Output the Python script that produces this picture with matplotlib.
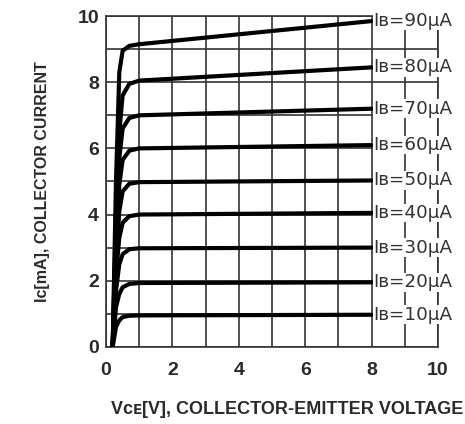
import matplotlib
matplotlib.use("Agg")
import matplotlib.pyplot as plt

plt.rcParams['font.family'] = ['Liberation Sans', 'DejaVu Sans']

# collector-emitter voltage sample points [V]
vce = [0.2, 0.3, 0.4, 0.5, 0.7, 1.0, 8.0]

# base currents [uA]
ib = [10, 20, 30, 40, 50, 60, 70, 80, 90]

# collector current [mA] for each base current
ic_10 = [0, 0.6, 0.8, 0.9, 0.94, 0.95, 0.97]
ic_20 = [0, 1.2, 1.6, 1.8, 1.9, 1.93, 1.95]
ic_30 = [0, 1.7, 2.5, 2.8, 2.95, 2.98, 3.0]
ic_40 = [0, 2.2, 3.3, 3.75, 3.95, 4.0, 4.05]
ic_50 = [0, 2.6, 4.1, 4.7, 4.93, 4.98, 5.03]
ic_60 = [0, 3.0, 4.9, 5.65, 5.93, 6.0, 6.1]
ic_70 = [0, 3.5, 5.7, 6.6, 6.92, 7.0, 7.2]
ic_80 = [0, 4.0, 6.5, 7.6, 7.95, 8.05, 8.45]
ic_90 = [0, 5.0, 8.3, 8.95, 9.1, 9.15, 9.85]

curves = [ic_10, ic_20, ic_30, ic_40, ic_50, ic_60, ic_70, ic_80, ic_90]

fig = plt.figure(figsize=(4.65, 4.24), dpi=100)
ax = fig.add_axes([0.228, 0.182, 0.714, 0.780])

for b, ic in zip(ib, curves):
    ax.plot(vce, ic, color='black', lw=3, solid_capstyle='round', zorder=3)
    ax.text(8.06, ic[-1], "I\u0299=%d\u03bcA" % b,
            fontsize=13.2, family='DejaVu Sans', color='#333333',
            va='center', ha='left', clip_on=False, zorder=4,
            bbox=dict(facecolor='white', edgecolor='none', pad=0.3))

ax.set_xlim(0, 10)
ax.set_ylim(0, 10)
ax.set_xticks(range(0, 11, 1))
ax.set_yticks(range(0, 11, 1))
ax.set_xticklabels([str(v) if v % 2 == 0 else '' for v in range(0, 11)])
ax.set_yticklabels([str(v) if v % 2 == 0 else '' for v in range(0, 11)])
ax.grid(True, color='#333333', lw=1.2, zorder=0)
ax.tick_params(length=0, labelsize=14, labelcolor='#2a2a2a')
ax.tick_params(axis='x', pad=11)
ax.tick_params(axis='y', pad=5)
for lbl in ax.get_xticklabels() + ax.get_yticklabels():
    lbl.set_fontweight('bold')
for s in ax.spines.values():
    s.set_color('#333333')
    s.set_linewidth(1.2)

ax.set_xlabel("V\u1d04\u1d07[V], COLLECTOR-EMITTER VOLTAGE",
              fontsize=13, fontweight='bold', color='#2a2a2a')
ax.xaxis.set_label_coords(0.545, -0.163)
ax.set_ylabel("I\u1d04[mA], COLLECTOR CURRENT",
              fontsize=11.5, fontweight='bold', color='#2a2a2a', labelpad=20)

fig.savefig('out.png', dpi=100)
